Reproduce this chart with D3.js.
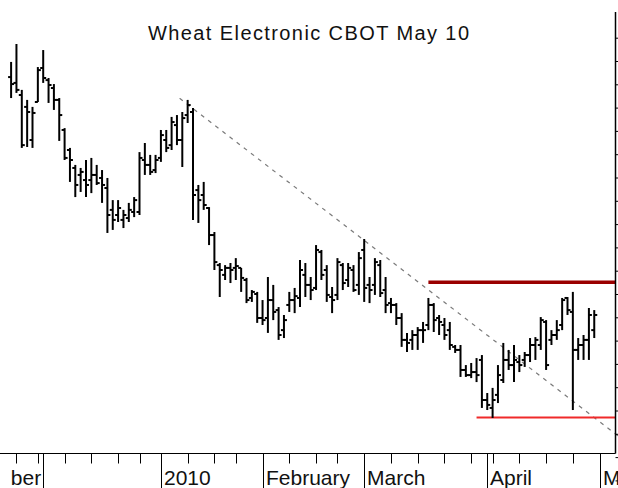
<!DOCTYPE html>
<html>
<head>
<meta charset="utf-8">
<script src="https://cdn.jsdelivr.net/npm/d3@7"></script>
<style>
  html, body { margin: 0; padding: 0; background: #fff; }
  svg { display: block; font-family: "Liberation Sans", Arial, sans-serif; }
</style>
</head>
<body>
<div id="chart"></div>
<script>
// daily bars, trading day index -6 (Nov 20 2009) .. 103 (Apr 30 2010), prices in cents
const firstIndex = -6;
const highs = [
  619.6, 627.3, 607.6, 603.3, 600.3, 617.4, 624.7, 612.7, 610.1, 604.1,
  591.2, 582.7, 575.4, 574.1, 577.5, 578.4, 575.4, 573.2, 569.8, 560.3,
  560.3, 556.1, 559.1, 561.6, 580.9, 584.8, 579.7, 579.7, 590.4, 590.4,
  596.0, 596.8, 598.1, 603.3, 599.8, 566.8, 568.1, 557.3, 546.6, 533.3,
  532.4, 533.3, 535.4, 531.2, 526.9, 521.7, 520.9, 517.4, 527.3, 523.9,
  514.4, 511.0, 520.9, 522.6, 534.6, 533.3, 527.3, 541.0, 538.9, 532.4,
  523.0, 535.4, 533.3, 533.3, 532.4, 538.0, 543.6, 527.3, 535.4, 534.6,
  527.3, 518.3, 516.1, 511.8, 503.3, 504.5, 505.8, 508.0, 518.3, 516.1,
  511.0, 509.7, 508.0, 498.1, 498.1, 489.5, 490.4, 492.5, 493.8, 477.5,
  479.7, 489.5, 499.0, 496.0, 498.1, 493.8, 495.1, 501.1, 501.5, 510.1,
  508.8, 504.5, 508.8, 518.3, 518.7, 520.9, 501.1, 502.4, 514.0, 513.1
];
const lows = [
  604.1, 606.3, 582.7, 583.1, 582.7, 602.4, 610.6, 602.0, 599.0, 585.7,
  577.5, 568.1, 561.6, 563.8, 561.6, 563.3, 566.8, 559.1, 546.2, 547.5,
  550.9, 548.3, 550.9, 553.0, 553.9, 571.1, 571.1, 571.9, 576.7, 580.9,
  581.8, 583.9, 574.5, 593.4, 551.8, 550.5, 556.1, 541.0, 530.3, 518.7,
  526.0, 524.7, 526.0, 520.9, 516.1, 516.6, 507.6, 506.7, 503.3, 508.8,
  500.3, 501.1, 512.3, 511.8, 514.4, 518.7, 517.4, 521.7, 526.0, 516.6,
  511.8, 517.4, 521.7, 523.0, 520.9, 519.6, 516.6, 516.1, 519.6, 518.7,
  511.8, 511.8, 506.7, 497.3, 495.1, 496.0, 496.0, 499.0, 504.5, 503.7,
  502.4, 500.3, 496.0, 494.7, 484.4, 484.4, 483.9, 482.2, 471.1, 470.2,
  466.8, 473.2, 481.8, 487.4, 482.2, 486.5, 488.7, 490.8, 491.7, 496.0,
  487.4, 498.1, 500.3, 504.5, 511.0, 470.2, 491.7, 491.7, 491.7, 501.1
];
const opens = [
  613.1, 610.6, 605.4, 600.3, 586.1, 602.4, 617.0, 611.8, 608.4, 603.3,
  590.4, 581.8, 574.1, 571.1, 568.9, 568.9, 571.1, 569.8, 565.5, 556.1,
  553.9, 551.8, 552.6, 555.2, 555.2, 577.5, 575.4, 573.2, 578.4, 586.1,
  583.9, 592.5, 586.1, 596.8, 598.1, 564.6, 562.5, 556.9, 545.3, 532.4,
  528.2, 531.2, 531.2, 531.2, 526.0, 518.3, 520.0, 509.7, 509.7, 517.4,
  513.1, 504.5, 515.3, 517.4, 518.3, 528.2, 523.9, 522.6, 538.0, 530.3,
  518.7, 519.6, 532.4, 526.0, 530.3, 523.9, 538.9, 523.9, 523.9, 532.4,
  521.7, 516.1, 515.3, 509.7, 500.3, 500.3, 502.4, 504.5, 506.7, 515.3,
  509.7, 506.7, 504.5, 497.3, 496.0, 487.4, 485.2, 486.5, 491.7, 474.5,
  471.1, 476.7, 483.1, 491.7, 489.5, 490.8, 491.7, 493.8, 498.1, 498.1,
  508.0, 500.3, 502.4, 506.7, 518.3, 512.3, 496.0, 498.1, 500.3, 504.5
];
const closes = [
  610.1, 607.6, 583.9, 598.1, 597.7, 616.1, 612.7, 609.7, 603.3, 596.8,
  578.4, 577.5, 566.8, 572.4, 566.8, 571.1, 567.6, 566.8, 553.9, 551.8,
  556.9, 553.9, 556.1, 560.3, 578.4, 575.4, 572.4, 577.5, 588.2, 582.7,
  593.8, 586.1, 595.5, 601.1, 562.5, 560.3, 558.2, 545.3, 533.7, 530.3,
  531.2, 530.3, 532.0, 526.9, 517.4, 520.9, 509.7, 508.8, 517.4, 512.3,
  502.4, 508.8, 517.4, 519.1, 530.3, 523.9, 521.7, 538.9, 528.2, 519.6,
  517.4, 533.7, 524.7, 531.2, 521.7, 535.4, 522.6, 521.7, 533.7, 520.4,
  515.3, 515.3, 509.7, 500.3, 499.0, 502.4, 504.5, 504.5, 515.3, 508.8,
  508.0, 502.4, 498.1, 496.0, 487.4, 485.2, 486.5, 485.2, 474.5, 472.4,
  474.5, 485.2, 491.7, 489.5, 491.7, 489.5, 493.8, 498.1, 500.3, 508.8,
  489.5, 502.4, 504.5, 517.4, 513.1, 496.0, 498.1, 500.3, 511.0, 511.0
];

// axis: month starts and weekly (first trading day of week) by trading day index
const monthTicks = [0, 22, 41, 60, 83, 104];
const monthLabels = ["", "2010", "February", "March", "April", "May"];
const weekTicks = [-5, -1, 4, 9, 14, 18, 27, 32, 36, 46, 51, 55, 65, 70, 75, 80, 84, 89, 94, 99];
const cutLabel = "ber"; // tail of the previous month name, cut off at the left edge

// drawn studies
const trendLine = [[25.5, 604], [107.5, 459]];
const resistance = { price: 525, from: 72 };
const support = { price: 467, from: 81 };
const priceTicks = d3.range(440, 640, 10);

document.addEventListener("DOMContentLoaded", function () {
  const W = 618, H = 488;
  const axisY = 453.5, axisX = 615.5;

  const svg = d3.select("#chart").append("svg")
    .attr("width", W).attr("height", H);

  const x = d3.scaleLinear().domain([0, 104]).range([43.2, 599.6]);
  const y = d3.scaleLinear().domain([470, 630]).range([410.5, 37.7]);

  const bars = highs.map((h, k) => ({
    i: firstIndex + k, high: h, low: lows[k], open: opens[k], close: closes[k]
  }));

  // title
  svg.append("text")
    .attr("x", 148).attr("y", 40)
    .attr("textLength", 321).attr("lengthAdjust", "spacing")
    .style("font-size", "20px").attr("fill", "#111")
    .text("Wheat Electronic CBOT May 10");

  // trend line
  svg.append("line")
    .attr("x1", x(trendLine[0][0])).attr("y1", y(trendLine[0][1]))
    .attr("x2", x(trendLine[1][0])).attr("y2", y(trendLine[1][1]))
    .attr("stroke", "#7a7a7a").attr("stroke-width", 1.2)
    .attr("stroke-dasharray", "4,5");

  // price levels
  svg.append("line")
    .attr("x1", x(resistance.from)).attr("x2", axisX)
    .attr("y1", y(resistance.price)).attr("y2", y(resistance.price))
    .attr("stroke", "#9a0000").attr("stroke-width", 3.5);
  svg.append("line")
    .attr("x1", x(support.from)).attr("x2", axisX)
    .attr("y1", y(support.price)).attr("y2", y(support.price))
    .attr("stroke", "#f02a2a").attr("stroke-width", 2);

  // OHLC bars
  const g = svg.append("g").attr("stroke", "#000").attr("stroke-width", 2);
  g.selectAll("line.hl").data(bars).enter().append("line")
    .attr("x1", d => x(d.i)).attr("x2", d => x(d.i))
    .attr("y1", d => y(d.high)).attr("y2", d => y(d.low));
  g.selectAll("line.o").data(bars).enter().append("line")
    .attr("x1", d => x(d.i) - 3).attr("x2", d => x(d.i))
    .attr("y1", d => y(d.open)).attr("y2", d => y(d.open));
  g.selectAll("line.c").data(bars).enter().append("line")
    .attr("x1", d => x(d.i)).attr("x2", d => x(d.i) + 3)
    .attr("y1", d => y(d.close)).attr("y2", d => y(d.close));

  // right price axis, labels fall outside the picture
  const yAxis = svg.append("g")
    .attr("transform", `translate(${axisX},0)`)
    .call(d3.axisRight(y).tickValues(priceTicks).tickSize(5).tickFormat(""));
  yAxis.select(".domain").remove();
  yAxis.selectAll("line").attr("stroke", "#000");
  svg.append("line")
    .attr("x1", axisX).attr("x2", axisX).attr("y1", 12).attr("y2", axisY)
    .attr("stroke", "#000").attr("stroke-width", 1.5);

  // time axis
  svg.append("line")
    .attr("x1", 0).attr("x2", axisX).attr("y1", axisY).attr("y2", axisY)
    .attr("stroke", "#000").attr("stroke-width", 1.2);
  svg.selectAll("line.week").data(weekTicks).enter().append("line")
    .attr("x1", d => Math.round(x(d)) + 0.5).attr("x2", d => Math.round(x(d)) + 0.5)
    .attr("y1", axisY).attr("y2", axisY + 10)
    .attr("stroke", "#000");
  svg.selectAll("line.month").data(monthTicks).enter().append("line")
    .attr("x1", d => Math.round(x(d)) + 0.5).attr("x2", d => Math.round(x(d)) + 0.5)
    .attr("y1", axisY).attr("y2", H)
    .attr("stroke", "#000");
  svg.selectAll("text.month").data(monthTicks).enter().append("text")
    .attr("x", d => Math.round(x(d)) + 3)
    .attr("y", 485)
    .style("font-size", "21px").attr("fill", "#111")
    .text((d, k) => monthLabels[k]);
  svg.append("text")
    .attr("x", x(monthTicks[0]) - 2).attr("y", 485)
    .attr("text-anchor", "end")
    .style("font-size", "21px").attr("fill", "#111")
    .text(cutLabel);
});
</script>
</body>
</html>
